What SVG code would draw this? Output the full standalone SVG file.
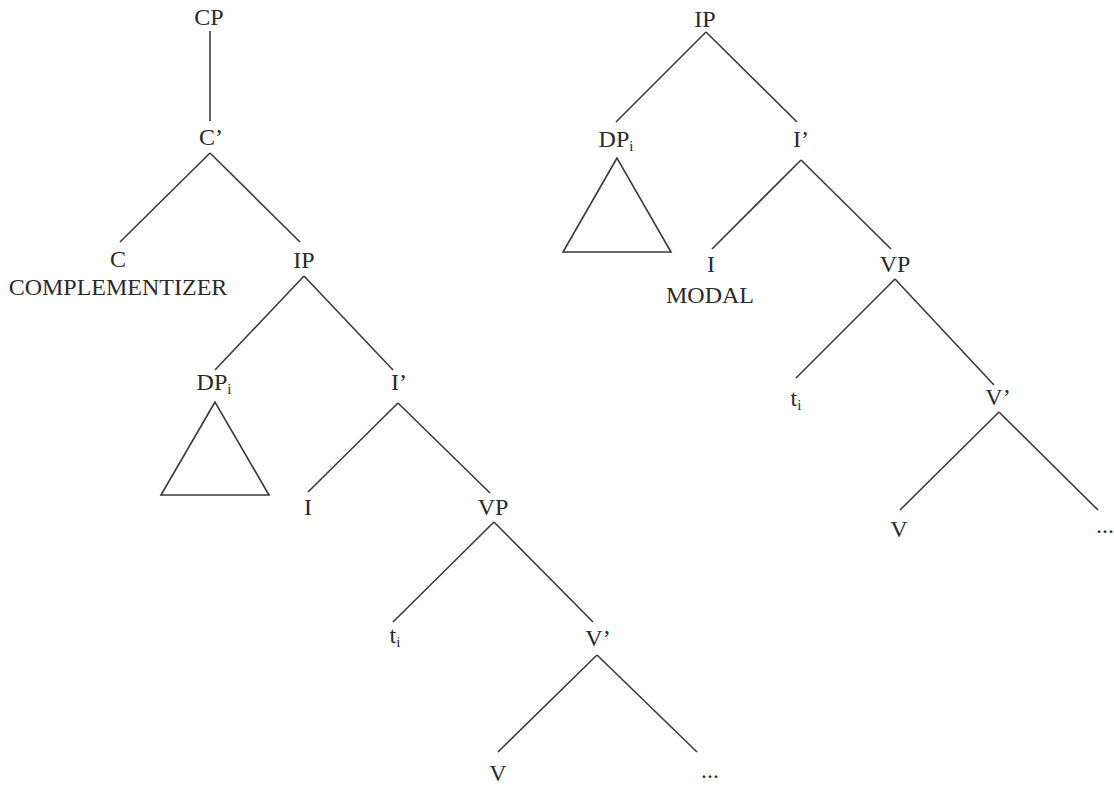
<svg xmlns="http://www.w3.org/2000/svg" width="1114" height="786" viewBox="0 0 1114 786">
<style>
text{font-family:'Liberation Serif','Times New Roman',Times,serif;font-size:24px;fill:#2a2a2a;text-anchor:middle}
.sub{font-size:15px}
line,polygon{stroke:#3a3a3a;stroke-width:1.6;fill:none}
</style>
<rect width="1114" height="786" fill="#fff"/>
<g id="connectors">
<line x1="210" y1="31" x2="210" y2="121"/>
<line x1="210" y1="153" x2="120" y2="242"/>
<line x1="210" y1="153" x2="300" y2="242"/>
<line x1="304" y1="276" x2="215" y2="370"/>
<line x1="304" y1="276" x2="393" y2="370"/>
<line x1="398" y1="403" x2="308" y2="492"/>
<line x1="398" y1="403" x2="490" y2="493"/>
<line x1="494" y1="522" x2="393" y2="622"/>
<line x1="494" y1="522" x2="593" y2="622"/>
<line x1="597" y1="655" x2="498" y2="752"/>
<line x1="597" y1="655" x2="697" y2="752"/>
<line x1="706" y1="32" x2="616" y2="122"/>
<line x1="706" y1="32" x2="797" y2="122"/>
<line x1="801" y1="160" x2="712" y2="249"/>
<line x1="801" y1="160" x2="891" y2="249"/>
<line x1="895" y1="279" x2="796" y2="378"/>
<line x1="895" y1="279" x2="994" y2="385"/>
<line x1="999" y1="412" x2="900" y2="510"/>
<line x1="999" y1="412" x2="1098" y2="510"/>
</g>
<g font-family="Liberation Serif, serif">
<g id="L-CP"><text x="209" y="25">CP</text></g>
<g id="L-Cbar"><text x="211" y="145">C’</text></g>
<g id="L-C"><text x="118" y="267">C</text><text x="118" y="295">COMPLEMENTIZER</text></g>
<g id="L-IP"><text x="304" y="268">IP</text></g>
<g id="L-DP"><text x="214" y="390">DP<tspan class="sub" dy="4">i</tspan></text><polygon points="215,402 161,495 269,495"/></g>
<g id="L-Ibar"><text x="399" y="390">I’</text></g>
<g id="L-I"><text x="308" y="515">I</text></g>
<g id="L-VP"><text x="493" y="515">VP</text></g>
<g id="L-t"><text x="395" y="643">t<tspan class="sub" dy="4">i</tspan></text></g>
<g id="L-Vbar"><text x="598" y="646">V’</text></g>
<g id="L-V"><text x="498" y="781">V</text></g>
<g id="L-dots"><text x="710" y="778">...</text></g>
<g id="R-IP"><text x="705" y="27">IP</text></g>
<g id="R-DP"><text x="616" y="147">DP<tspan class="sub" dy="4">i</tspan></text><polygon points="617,158 563,252 671,252"/></g>
<g id="R-Ibar"><text x="801" y="147">I’</text></g>
<g id="R-I"><text x="711" y="272">I</text><text x="710" y="303">MODAL</text></g>
<g id="R-VP"><text x="895" y="272">VP</text></g>
<g id="R-t"><text x="796" y="406">t<tspan class="sub" dy="4">i</tspan></text></g>
<g id="R-Vbar"><text x="998" y="405">V’</text></g>
<g id="R-V"><text x="899" y="537">V</text></g>
<g id="R-dots"><text x="1105" y="533">...</text></g>
</g>
</svg>
